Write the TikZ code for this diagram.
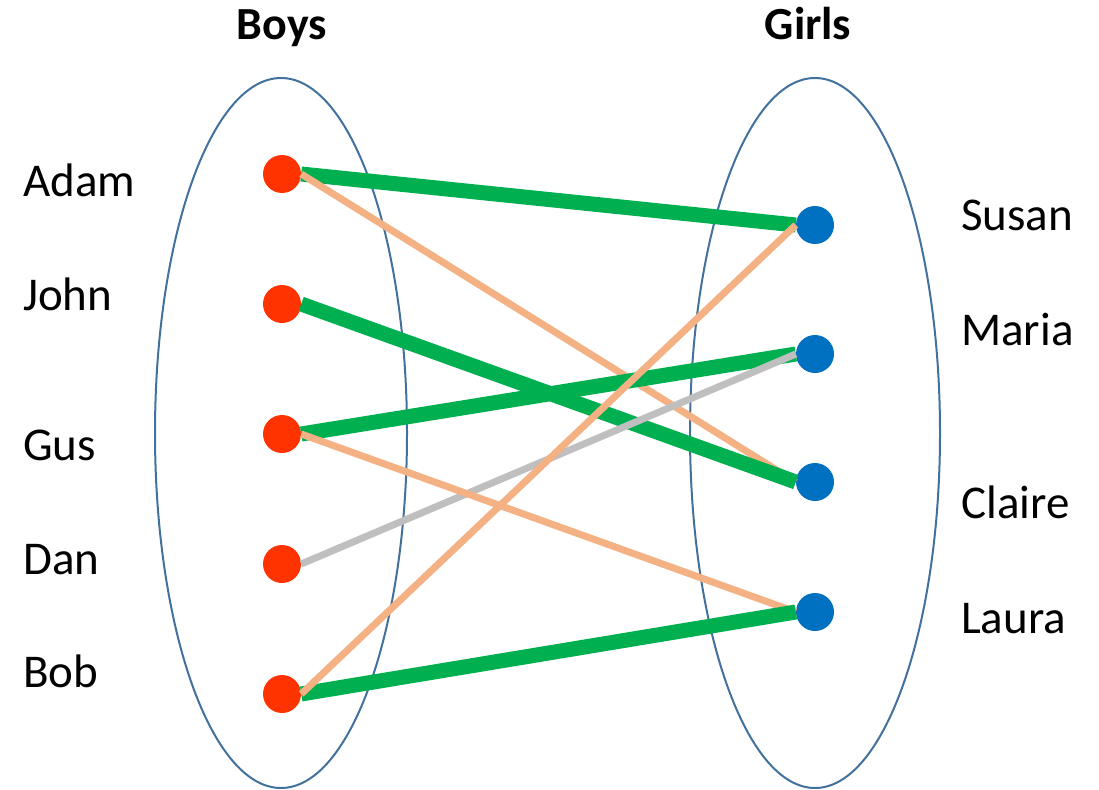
\documentclass[tikz,border=0pt]{standalone}
\usepackage{fontspec}
\setmainfont{Carlito}
\usepackage{xcolor}
\usepackage{tikz}
\usetikzlibrary{positioning}
\definecolor{setblue}{RGB}{65,113,156}
\definecolor{boyred}{RGB}{255,51,0}
\definecolor{girlblue}{RGB}{0,112,192}
\definecolor{pairgreen}{RGB}{0,176,80}
\definecolor{pairorange}{RGB}{244,177,131}
\definecolor{pairgray}{RGB}{191,191,191}

\begin{document}
\begin{tikzpicture}[x=1pt, y=-1pt,
    setline/.style={draw=setblue, line width=2pt},
    boy/.style={circle, fill=boyred, minimum size=38pt, inner sep=0pt},
    girl/.style={circle, fill=girlblue, minimum size=38pt, inner sep=0pt},
    kidlbl/.style={font=\fontsize{47}{56}\selectfont, inner sep=0pt, anchor=base west},
    headlbl/.style={font=\fontsize{46}{55}\selectfont\bfseries, inner sep=0pt, anchor=base},
    matchline/.style={pairgreen, line width=15pt},
    maybeline/.style={pairorange, line width=7pt},
    nopeline/.style={pairgray, line width=7pt}
]
\useasboundingbox (0,0) rectangle (1099,789);

\node[headlbl] (boyshead) at (282,40) {Boys};
\node[headlbl] (girlshead) at (808,40) {Girls};

\draw[setline] (281,433) ellipse (126pt and 355pt);
\draw[setline] (815,433) ellipse (125pt and 355pt);

% boys
\node[boy] (adam) at (282,174) {};
\node[boy] (john) at (282,304) {};
\node[boy] (gus)  at (282,434) {};
\node[boy] (dan)  at (282,564) {};
\node[boy] (bob)  at (282,694) {};
\node[kidlbl] (adamlbl) at (23,196) {Adam};
\node[kidlbl] (johnlbl) at (23,310) {John};
\node[kidlbl] (guslbl)  at (23,460) {Gus};
\node[kidlbl] (danlbl)  at (23,574) {Dan};
\node[kidlbl] (boblbl)  at (23,687) {Bob};

% girls
\node[girl] (susan)  at (815,225) {};
\node[girl] (maria)  at (815,354) {};
\node[girl] (claire) at (815,482) {};
\node[girl] (laura)  at (815,612) {};
\node[kidlbl] (susanlbl)  at (961,230) {Susan};
\node[kidlbl] (marialbl)  at (961,345) {Maria};
\node[kidlbl] (clairelbl) at (961,518) {Claire};
\node[kidlbl] (lauralbl)  at (961,633) {Laura};

\draw[matchline] (adam.east) -- (susan.west);
\draw[maybeline] (adam.east) -- (claire.west);
\draw[matchline] (john.east) -- (claire.west);
\draw[matchline] (gus.east) -- (maria.west);
\draw[nopeline] (dan.east) -- (maria.west);
\draw[maybeline] (gus.east) -- (laura.west);
\draw[matchline] (bob.east) -- (laura.west);
\draw[maybeline] (bob.east) -- (susan.west);
\end{tikzpicture}
\end{document}
